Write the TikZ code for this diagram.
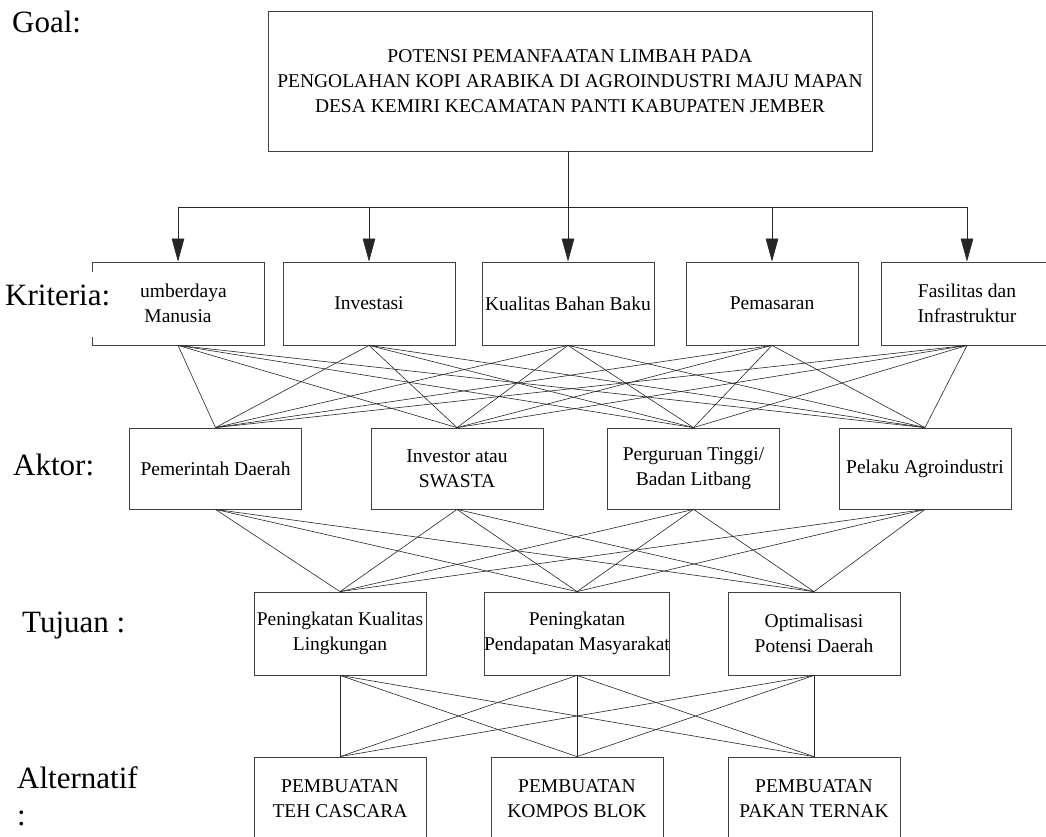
\documentclass[tikz,border=0pt]{standalone}
\usepackage{fontspec}
\setmainfont{Liberation Serif}
\usetikzlibrary{arrows.meta}
\begin{document}
\begin{tikzpicture}[x=1pt,y=-1pt,
  box/.style={draw=black!75, line width=0.8pt, minimum width=172pt, minimum height=83pt, inner sep=0pt, align=center, font=\fontsize{19.5}{25}\selectfont},
  lbl/.style={anchor=base west, inner sep=0pt, align=left, font=\fontsize{31}{37}\selectfont},
  link/.style={draw=black!85, line width=0.6pt},
  arr/.style={link, -{Triangle[length=23pt,width=12.5pt]}}]
\useasboundingbox (0,0) rectangle (1046,836);
\clip (0,0) rectangle (1046,836);
\fill[white] (0,0) rectangle (1046,836);

% goal
\node[box, minimum width=604pt, minimum height=140pt] (goal) at (570,81)
  {POTENSI PEMANFAATAN LIMBAH PADA\\PENGOLAHAN KOPI ARABIKA DI AGROINDUSTRI MAJU MAPAN\\DESA KEMIRI KECAMATAN PANTI KABUPATEN JEMBER};

% kriteria
\node[box] (k1) at (178,303.5) {Sumberdaya\\Manusia};
\node[box] (k2) at (369,303.5) {Investasi};
\node[box] (k3) at (568,303.5) {Kualitas Bahan Baku};
\node[box] (k4) at (772,303.5) {Pemasaran};
\node[box] (k5) at (967,303.5) {Fasilitas dan\\Infrastruktur};

% aktor
\node[box, minimum height=81pt] (a1) at (215.5,468.5) {Pemerintah Daerah};
\node[box, minimum height=81pt] (a2) at (457,468.5) {Investor atau\\SWASTA};
\node[box, minimum height=81pt] (a3) at (693.5,468.5) {Perguruan Tinggi/\\Badan Litbang};
\node[box, minimum height=81pt] (a4) at (925,468.5) {Pelaku Agroindustri};

% tujuan
\node[box] (t1) at (340,633.5) {Peningkatan Kualitas\\Lingkungan};
\node[box] (t2) at (577,633.5) {Peningkatan\\Pendapatan Masyarakat};
\node[box] (t3) at (814,633.5) {Optimalisasi\\Potensi Daerah};

% alternatif
\node[box] (p1) at (340,798.5) {PEMBUATAN\\TEH CASCARA};
\node[box] (p2) at (577,798.5) {PEMBUATAN\\KOMPOS BLOK};
\node[box] (p3) at (814,798.5) {PEMBUATAN\\PAKAN TERNAK};

% goal to kriteria
\coordinate (bar) at (568,207);
\draw[link] (k3.north |- goal.south) -- (k3.north |- bar);
\draw[link] (k1.north |- bar) -- (k5.north |- bar);
\foreach \k in {k1,k2,k3,k4,k5}
  \draw[arr] (\k.north |- bar) -- (\k.north);

% full links
\foreach \k in {k1,k2,k3,k4,k5}
  \foreach \a in {a1,a2,a3,a4}
    \draw[link] (\k.south) -- (\a.north);
\foreach \a in {a1,a2,a3,a4}
  \foreach \t in {t1,t2,t3}
    \draw[link] (\a.south) -- (\t.north);
\foreach \t in {t1,t2,t3}
  \foreach \p in {p1,p2,p3}
    \draw[link] (\t.south) -- (\p.north);

% level labels
\node[lbl] (lgoal) at (12,32) {Goal:};
\node[lbl, fill=white, text width=136pt, text height=33pt, text depth=32pt] (lkrit) at (5,305) {Kriteria:};
\node[lbl] (lakt) at (13,475) {Aktor:};
\node[lbl] (ltuj) at (22,632) {Tujuan :};
\node[lbl] (lalt) at (17,825) {Alternatif\\:};
\end{tikzpicture}
\end{document}
